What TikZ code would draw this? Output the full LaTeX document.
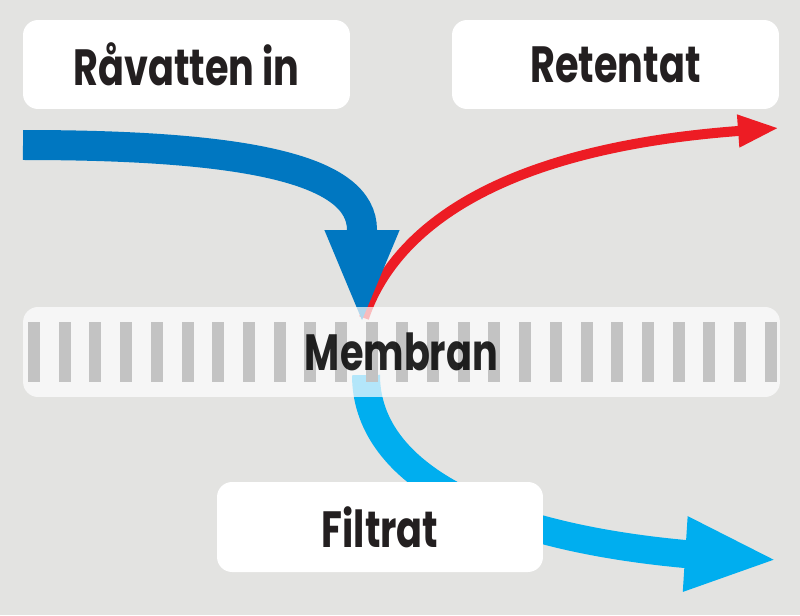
\documentclass[tikz,border=0pt]{standalone}
\usepackage{fontspec}
\setmainfont{Poppins}[FakeStretch=0.75]
\usepackage{xcolor}
\usetikzlibrary{arrows.meta,
	positioning}
\definecolor{bakgrund}{HTML}{E3E3E1}
\definecolor{blaa}{HTML}{0077C1}
\definecolor{roed}{HTML}{ED1C24}
\definecolor{ljusblaa}{HTML}{00AEEF}
\definecolor{staav}{HTML}{C3C3C3}
\definecolor{texten}{HTML}{231F20}
\tikzstyle{ruta}=[fill=white, rounded corners=0.3cm, inner sep=0, text=texten,
		font=\fontsize{29}{30}\selectfont\bfseries]
\tikzstyle{band}=[ruta, fill opacity=0.7, text opacity=0.85, text=black]
\tikzstyle{inflode}=[blaa, line width=0.6cm]
\tikzstyle{retflode}=[roed, line width=0.2cm]
\tikzstyle{filflode}=[ljusblaa, line width=0.56cm]

\begin{document}
\begin{tikzpicture}[x=0.02cm, y=-0.02cm]
                \fill[bakgrund] (0,0) rectangle (800,615);
                \useasboundingbox (0,0) rectangle (800,615);
                % fixpunkter for flodena
                \coordinate (inlopp) at (23,145);
                \coordinate (krok) at (362,230);
                \coordinate (spets) at (362,325);
                \coordinate (retstart) at (364,318);
                \coordinate (retut) at (779,128);
                \coordinate (filstart) at (366,375);
                \coordinate (filknick) at (685,554);
                \coordinate (filut) at (778,560);
                % retentat, bakom inflodet
                \draw[retflode, -{Triangle[length=0.82cm, width=0.6cm]}] (retstart) .. controls (390,240) and (480,150) .. (retut);
                \draw[inflode, -{Triangle[length=1.9cm, width=1.34cm]}] (inlopp) .. controls (250,145) and (362,170) .. (krok) -- (spets);
                \draw[filflode, -{Triangle[length=1.86cm, width=1.36cm]}] (filstart) .. controls (366,470) and (480,535) .. (filknick) -- (filut);
                % membran med staver
                \node[band, minimum width=15.14cm, minimum height=1.8cm,
                    path picture={\foreach \i in {0,...,24} \fill[staav, fill opacity=1, sharp corners]
                        ([xshift={(0.1+0.614*\i)*1cm}, yshift=0.6cm]path picture bounding box.west) rectangle +(12,60);}]
                    (membran) at (401.5,352) {Membran};
                \node[ruta, minimum width=6.54cm, minimum height=1.78cm] (raavatten) at (186.5,64.5) {Råvatten in};
                \node[ruta, minimum width=6.54cm, minimum height=1.78cm] (retentat) at (615.5,64.5) {Retentat};
                \node[ruta, minimum width=6.52cm, minimum height=1.8cm] (filtrat) at (380,527) {Filtrat};
            \end{tikzpicture}
\end{document}
